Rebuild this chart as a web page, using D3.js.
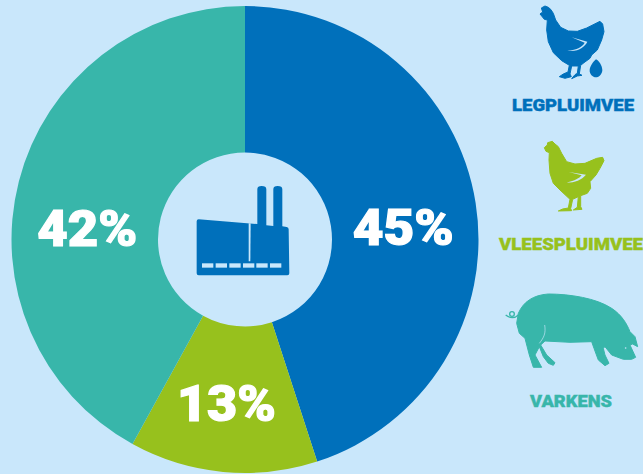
<!DOCTYPE html>
<html>
<head>
<meta charset="utf-8">
<script src="https://cdn.jsdelivr.net/npm/d3@7"></script>
<style>
html,body{margin:0;padding:0;background:#c9e7fb;overflow:hidden}
svg{display:block}
text{font-family:Roboto,sans-serif;font-weight:900}
</style>
</head>
<body>
<script>
var categories=["LEGPLUIMVEE","VLEESPLUIMVEE","VARKENS"];
var values=[45,13,42];
var colors=["#0070bb","#97c11d","#38b6aa"];
var bg="#c9e7fb";

var w=643,h=474;
var svg=d3.select("body").append("svg").attr("width",w).attr("height",h);
svg.append("rect").attr("width",w).attr("height",h).attr("fill",bg);

var pie=d3.pie().sort(null);
var arc=d3.arc().innerRadius(87).outerRadius(233.5);
var chart=svg.append("g").attr("transform","translate(245,239.5)");
var arcs=chart.selectAll("g.arc").data(pie(values)).enter().append("g").attr("class","arc");
arcs.append("path").attr("fill",function(d,i){return colors[i];}).attr("d",arc);

// labels sit a bit off the centroid in the original
var nudge=[[0,14],[-3.5,5],[-2.5,29]];
var pctWidth=[101,99,100];
arcs.append("text")
  .attr("transform",function(d,i){
    var c=arc.centroid(d);
    return "translate("+(c[0]+nudge[i][0])+","+(c[1]+nudge[i][1])+")";
  })
  .attr("text-anchor","middle")
  .attr("dominant-baseline","central")
  .attr("fill","#fff")
  .attr("stroke","#fff")
  .attr("stroke-width",1.2)
  .attr("font-size",50)
  .attr("textLength",function(d,i){return pctWidth[i];})
  .attr("lengthAdjust","spacingAndGlyphs")
  .text(function(d){return d.value+"%";});

// icons, traced at 3x from the reference
function icon(x,y){return svg.append("g").attr("transform","translate("+x+","+y+") scale(0.3333)");}

var hen=icon(490,0);
hen.append("path").attr("fill",colors[0]).attr("stroke",colors[0]).attr("stroke-width",3).attr("stroke-linejoin","round").attr("d","M150 42L158 36L154 24L165 18L175 22L182 28L190 40L197 60L212 82L235 93L262 94L290 84L330 64L338 72L342 95L335 120L322 150L305 165L300 175L282 188L272 196L268 222L276 226L262 228L245 236L255 224L262 220L265 198L245 198L240 222L244 230L225 235L208 230L220 222L234 216L238 196L215 182L190 158L175 125L170 90L172 60L163 58L155 48Z");
hen.append("path").attr("fill",bg).attr("d","M245 112L292 125C285 140 265 157 232 152C262 150 278 140 284 128Z");
hen.append("path").attr("fill",colors[0]).attr("d","M318 178C332 185 338 205 337 212C335 225 325 232 318 232C308 232 298 222 299 210C300 198 310 185 318 178Z");

var chick=icon(490,130);
chick.append("path").attr("fill",colors[1]).attr("stroke",colors[1]).attr("stroke-width",3).attr("stroke-linejoin","round").attr("d","M163 53L172 45L173 38L187 34L195 42L205 50L215 70L230 95L255 102L285 100L320 85L338 82L342 92L330 115L318 135L300 155L302 175L292 190L272 197L272 230L276 238L250 240L262 232L265 200L248 208L242 236L245 242L205 243L218 237L235 234L240 208L210 180L190 160L180 130L177 90L178 68L168 64Z");
chick.append("path").attr("fill",bg).attr("d","M236 126L288 134C275 150 255 158 230 158C255 152 268 145 275 136Z");

var pig=icon(490,280);
pig.append("path").attr("fill",colors[2]).attr("stroke",colors[2]).attr("stroke-width",3).attr("stroke-linejoin","round").attr("d","M85 100C100 65 130 45 175 42C240 42 320 55 365 85C395 105 410 130 420 155L435 170L443 200L428 192L420 195L437 232L425 238L400 238L365 225L345 200L340 205L345 225L357 250L345 257L325 240L312 205L305 185L240 187L165 183L152 195L170 225L195 248L190 256L175 250L160 230L148 200L135 225L155 262L130 262L118 225L105 175L88 160L80 130Z");
pig.append("circle").attr("cx",66).attr("cy",102).attr("r",7).attr("fill","none").attr("stroke",colors[2]).attr("stroke-width",4);
pig.append("path").attr("fill","none").attr("stroke",colors[2]).attr("stroke-width",4).attr("d","M47 105C60 115 75 115 85 105");
pig.append("path").attr("fill","none").attr("stroke",bg).attr("stroke-width",2).attr("d","M164 135C168 160 162 172 148 190");
pig.append("circle").attr("cx",407).attr("cy",204).attr("r",2.5).attr("fill",bg);

// factory
var fac=icon(170,160);
fac.append("path").attr("fill",colors[0]).attr("d","M262 88Q262 78 275 78Q289 78 289 88L289 196L310 198L310 88Q310 78 323 78Q337 78 337 88L337 199L350 201Q356 202 356 208L358 340Q358 346 352 346L86 346Q80 346 80 340L80 184Q80 178 86 178L262 192Z");
fac.append("path").attr("fill",bg).attr("d","M236 190L242 190L241 304L236 304Z");
var dashes=fac.append("g").attr("fill",bg);
[96,137,178,219,259,300].forEach(function(x){
  dashes.append("rect").attr("x",x).attr("y",310).attr("width",34).attr("height",13);
});

var lx=[573,571,571],ly=[111,250,407],lw=[122,144,82];
svg.selectAll("text.cat").data(categories).enter().append("text")
  .attr("class","cat")
  .attr("x",function(d,i){return lx[i];})
  .attr("y",function(d,i){return ly[i];})
  .attr("text-anchor","middle")
  .attr("font-size",17)
  .attr("stroke",function(d,i){return colors[i];})
  .attr("stroke-width",0.4)
  .attr("textLength",function(d,i){return lw[i];})
  .attr("lengthAdjust","spacingAndGlyphs")
  .attr("fill",function(d,i){return colors[i];})
  .text(function(d){return d;});
</script>
</body>
</html>
